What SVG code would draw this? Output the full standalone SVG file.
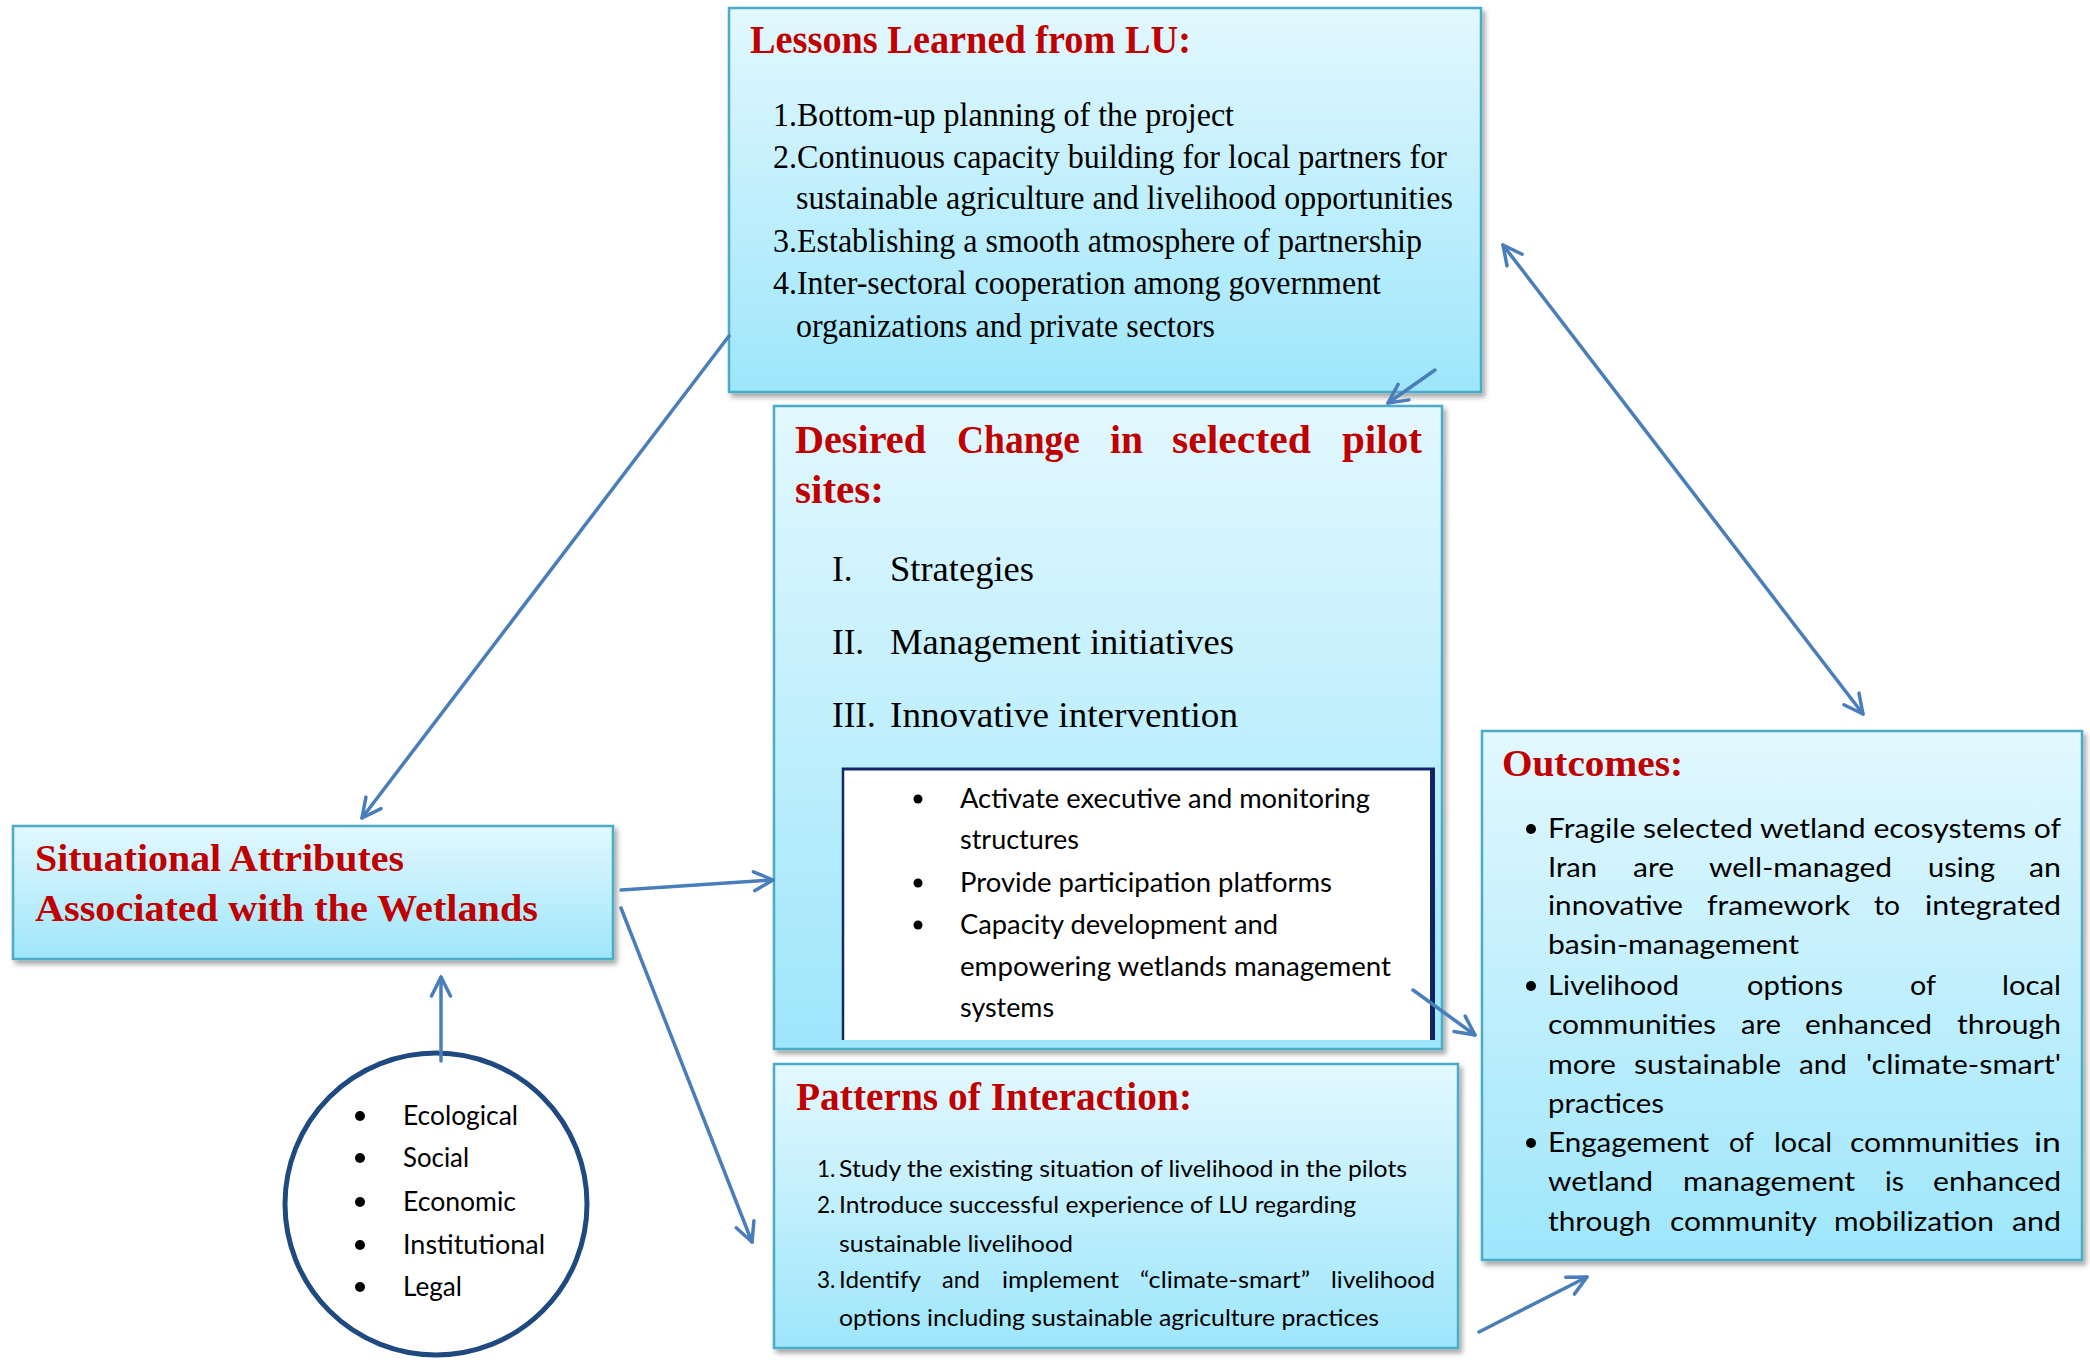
<svg xmlns="http://www.w3.org/2000/svg" width="2090" height="1360" viewBox="0 0 2090 1360">
  <defs>
    <linearGradient id="boxFill" x1="0" y1="0" x2="0" y2="1">
      <stop offset="0" stop-color="#E2F8FE"/>
      <stop offset="1" stop-color="#9EE6FB"/>
    </linearGradient>
    <filter id="shadow" x="-5%" y="-5%" width="112%" height="115%">
      <feDropShadow dx="3" dy="4" stdDeviation="2.5" flood-color="#000" flood-opacity="0.35"/>
    </filter>
    <marker id="arrow" viewBox="0 0 24 24" refX="21" refY="12" markerWidth="24" markerHeight="24" markerUnits="userSpaceOnUse" orient="auto-start-reverse">
      <path d="M2,2.5 L21,12 L2,21.5" fill="none" stroke="#4A7EBB" stroke-width="3.5" stroke-linecap="round" stroke-linejoin="round"/>
    </marker>
    <clipPath id="desiredClip">
      <rect x="774" y="406" width="668" height="634"/>
    </clipPath>
    <style>
      .box { fill: url(#boxFill); stroke: #4BACC6; stroke-width: 2.5; filter: url(#shadow); }
      .title { font-family: "Liberation Serif", serif; font-weight: bold; fill: #C00000; }
      .serif { font-family: "Liberation Serif", serif; fill: #000; }
      .sans { font-family: Lato, "Liberation Sans", sans-serif; fill: #000; }
      .dot { fill: #000; }
      .conn { fill: none; stroke: #4A7EBB; stroke-width: 3.5; stroke-linecap: round; }
    </style>
  </defs>

  <rect width="2090" height="1360" fill="#FFFFFF"/>

  <!-- Lessons learned box -->
  <g id="lessons">
    <rect class="box" x="729" y="8" width="752" height="384"/>
    <text class="title" x="750" y="53" font-size="40" textLength="441" lengthAdjust="spacingAndGlyphs">Lessons Learned from LU:</text>
    <g class="serif" font-size="33">
      <text x="773" y="126" textLength="461" lengthAdjust="spacingAndGlyphs">1.Bottom-up planning of the project</text>
      <text x="773" y="168" textLength="674" lengthAdjust="spacingAndGlyphs">2.Continuous capacity building for local partners for</text>
      <text x="796" y="209" textLength="657" lengthAdjust="spacingAndGlyphs">sustainable agriculture and livelihood opportunities</text>
      <text x="773" y="252" textLength="649" lengthAdjust="spacingAndGlyphs">3.Establishing a smooth atmosphere of partnership</text>
      <text x="773" y="294" textLength="608" lengthAdjust="spacingAndGlyphs">4.Inter-sectoral cooperation among government</text>
      <text x="796" y="337" textLength="419" lengthAdjust="spacingAndGlyphs">organizations and private sectors</text>
    </g>
  </g>

  <!-- Desired change box -->
  <g id="desired-change">
    <rect class="box" x="774" y="406" width="668" height="643"/>
    <g class="title" font-size="39">
      <text x="795" y="453" textLength="131" lengthAdjust="spacingAndGlyphs">Desired</text>
      <text x="957" y="453" textLength="123" lengthAdjust="spacingAndGlyphs">Change</text>
      <text x="1110" y="453" textLength="33" lengthAdjust="spacingAndGlyphs">in</text>
      <text x="1172" y="453" textLength="139" lengthAdjust="spacingAndGlyphs">selected</text>
      <text x="1342" y="453" textLength="80" lengthAdjust="spacingAndGlyphs">pilot</text>
      <text x="795" y="503" textLength="89" lengthAdjust="spacingAndGlyphs">sites:</text>
    </g>
    <g class="serif" font-size="35">
      <text x="832" y="581">I.</text>
      <text x="890" y="581" textLength="144" lengthAdjust="spacingAndGlyphs">Strategies</text>
      <text x="832" y="654">II.</text>
      <text x="890" y="654" textLength="344" lengthAdjust="spacingAndGlyphs">Management initiatives</text>
      <text x="832" y="727">III.</text>
      <text x="890" y="727" textLength="348" lengthAdjust="spacingAndGlyphs">Innovative intervention</text>
    </g>
    <!-- inner white panel, cut off by the bottom of the box -->
    <g clip-path="url(#desiredClip)">
      <rect x="842" y="768" width="591" height="280" fill="#FFFFFF"/>
      <line x1="843" y1="768" x2="843" y2="1048" stroke="#13286B" stroke-width="2.5"/>
      <line x1="842" y1="769" x2="1435" y2="769" stroke="#13286B" stroke-width="3"/>
      <line x1="1432.5" y1="768" x2="1432.5" y2="1048" stroke="#0F2460" stroke-width="5"/>
    </g>
    <g class="dot">
      <circle cx="918" cy="799" r="4.5"/>
      <circle cx="918" cy="883" r="4.5"/>
      <circle cx="918" cy="925" r="4.5"/>
    </g>
    <g class="sans" font-size="26">
      <text x="960" y="808" textLength="410" lengthAdjust="spacingAndGlyphs">Activate executive and monitoring</text>
      <text x="960" y="849" textLength="119" lengthAdjust="spacingAndGlyphs">structures</text>
      <text x="960" y="892" textLength="372" lengthAdjust="spacingAndGlyphs">Provide participation platforms</text>
      <text x="960" y="934" textLength="318" lengthAdjust="spacingAndGlyphs">Capacity development and</text>
      <text x="960" y="976" textLength="431" lengthAdjust="spacingAndGlyphs">empowering wetlands management</text>
      <text x="960" y="1017" textLength="94" lengthAdjust="spacingAndGlyphs">systems</text>
    </g>
  </g>

  <!-- Situational attributes box -->
  <g id="situational">
    <rect class="box" x="13" y="826" width="600" height="133"/>
    <text class="title" x="35" y="871" font-size="37" textLength="369" lengthAdjust="spacingAndGlyphs">Situational Attributes</text>
    <text class="title" x="35" y="921" font-size="37" textLength="503" lengthAdjust="spacingAndGlyphs">Associated with the Wetlands</text>
  </g>

  <!-- Attribute categories circle -->
  <g id="categories">
    <circle cx="436" cy="1204" r="151" fill="#FFFFFF" stroke="#1F4A7F" stroke-width="5"/>
    <g class="dot">
      <circle cx="360" cy="1116" r="5"/>
      <circle cx="360" cy="1158" r="5"/>
      <circle cx="360" cy="1202" r="5"/>
      <circle cx="360" cy="1245" r="5"/>
      <circle cx="360" cy="1287" r="5"/>
    </g>
    <g class="sans" font-size="26">
      <text x="403" y="1125" textLength="115" lengthAdjust="spacingAndGlyphs">Ecological</text>
      <text x="403" y="1167" textLength="66" lengthAdjust="spacingAndGlyphs">Social</text>
      <text x="403" y="1211" textLength="113" lengthAdjust="spacingAndGlyphs">Economic</text>
      <text x="403" y="1254" textLength="142" lengthAdjust="spacingAndGlyphs">Institutional</text>
      <text x="403" y="1296" textLength="59" lengthAdjust="spacingAndGlyphs">Legal</text>
    </g>
  </g>

  <!-- Patterns of interaction box -->
  <g id="patterns">
    <rect class="box" x="774" y="1064" width="684" height="284"/>
    <text class="title" x="796" y="1110" font-size="39" textLength="396" lengthAdjust="spacingAndGlyphs">Patterns of Interaction:</text>
    <g class="sans" font-size="22.5">
      <text x="817" y="1177">1.</text>
      <text x="839" y="1177" textLength="568" lengthAdjust="spacingAndGlyphs">Study the existing situation of livelihood in the pilots</text>
      <text x="817" y="1213">2.</text>
      <text x="839" y="1213" textLength="517" lengthAdjust="spacingAndGlyphs">Introduce successful experience of LU regarding</text>
      <text x="839" y="1252" textLength="234" lengthAdjust="spacingAndGlyphs">sustainable livelihood</text>
      <text x="817" y="1288">3.</text>
      <text x="839" y="1288" textLength="82" lengthAdjust="spacingAndGlyphs">Identify</text>
      <text x="942" y="1288" textLength="38" lengthAdjust="spacingAndGlyphs">and</text>
      <text x="1002" y="1288" textLength="117" lengthAdjust="spacingAndGlyphs">implement</text>
      <text x="1140" y="1288" textLength="170" lengthAdjust="spacingAndGlyphs">“climate-smart”</text>
      <text x="1331" y="1288" textLength="104" lengthAdjust="spacingAndGlyphs">livelihood</text>
      <text x="839" y="1326" textLength="540" lengthAdjust="spacingAndGlyphs">options including sustainable agriculture practices</text>
    </g>
  </g>

  <!-- Outcomes box -->
  <g id="outcomes">
    <rect class="box" x="1482" y="731" width="600" height="529"/>
    <text class="title" x="1502" y="776" font-size="38" textLength="181" lengthAdjust="spacingAndGlyphs">Outcomes:</text>
    <g class="dot">
      <circle cx="1531" cy="829" r="5"/>
      <circle cx="1531" cy="986" r="5"/>
      <circle cx="1531" cy="1143" r="5"/>
    </g>
    <g class="sans" font-size="27">
      <text x="1548" y="838" textLength="513" lengthAdjust="spacingAndGlyphs">Fragile selected wetland ecosystems of</text>

      <text x="1548" y="877" textLength="49" lengthAdjust="spacingAndGlyphs">Iran</text>
      <text x="1633" y="877" textLength="41" lengthAdjust="spacingAndGlyphs">are</text>
      <text x="1709" y="877" textLength="183" lengthAdjust="spacingAndGlyphs">well-managed</text>
      <text x="1928" y="877" textLength="67" lengthAdjust="spacingAndGlyphs">using</text>
      <text x="2029" y="877" textLength="32" lengthAdjust="spacingAndGlyphs">an</text>

      <text x="1548" y="915" textLength="135" lengthAdjust="spacingAndGlyphs">innovative</text>
      <text x="1707" y="915" textLength="143" lengthAdjust="spacingAndGlyphs">framework</text>
      <text x="1874" y="915" textLength="26" lengthAdjust="spacingAndGlyphs">to</text>
      <text x="1925" y="915" textLength="136" lengthAdjust="spacingAndGlyphs">integrated</text>

      <text x="1548" y="954" textLength="251" lengthAdjust="spacingAndGlyphs">basin-management</text>

      <text x="1548" y="995" textLength="131" lengthAdjust="spacingAndGlyphs">Livelihood</text>
      <text x="1747" y="995" textLength="96" lengthAdjust="spacingAndGlyphs">options</text>
      <text x="1910" y="995" textLength="26" lengthAdjust="spacingAndGlyphs">of</text>
      <text x="2002" y="995" textLength="59" lengthAdjust="spacingAndGlyphs">local</text>

      <text x="1548" y="1034" textLength="168" lengthAdjust="spacingAndGlyphs">communities</text>
      <text x="1741" y="1034" textLength="40" lengthAdjust="spacingAndGlyphs">are</text>
      <text x="1805" y="1034" textLength="127" lengthAdjust="spacingAndGlyphs">enhanced</text>
      <text x="1957" y="1034" textLength="104" lengthAdjust="spacingAndGlyphs">through</text>

      <text x="1548" y="1074" textLength="68" lengthAdjust="spacingAndGlyphs">more</text>
      <text x="1634" y="1074" textLength="147" lengthAdjust="spacingAndGlyphs">sustainable</text>
      <text x="1799" y="1074" textLength="48" lengthAdjust="spacingAndGlyphs">and</text>
      <text x="1866" y="1074" textLength="195" lengthAdjust="spacingAndGlyphs">'climate-smart'</text>

      <text x="1548" y="1113" textLength="116" lengthAdjust="spacingAndGlyphs">practices</text>

      <text x="1548" y="1152" textLength="161" lengthAdjust="spacingAndGlyphs">Engagement</text>
      <text x="1729" y="1152" textLength="25" lengthAdjust="spacingAndGlyphs">of</text>
      <text x="1774" y="1152" textLength="58" lengthAdjust="spacingAndGlyphs">local</text>
      <text x="1850" y="1152" textLength="169" lengthAdjust="spacingAndGlyphs">communities</text>
      <text x="2034" y="1152" textLength="27" lengthAdjust="spacingAndGlyphs">in</text>

      <text x="1548" y="1191" textLength="105" lengthAdjust="spacingAndGlyphs">wetland</text>
      <text x="1683" y="1191" textLength="172" lengthAdjust="spacingAndGlyphs">management</text>
      <text x="1885" y="1191" textLength="19" lengthAdjust="spacingAndGlyphs">is</text>
      <text x="1933" y="1191" textLength="128" lengthAdjust="spacingAndGlyphs">enhanced</text>

      <text x="1548" y="1231" textLength="103" lengthAdjust="spacingAndGlyphs">through</text>
      <text x="1670" y="1231" textLength="147" lengthAdjust="spacingAndGlyphs">community</text>
      <text x="1834" y="1231" textLength="160" lengthAdjust="spacingAndGlyphs">mobilization</text>
      <text x="2012" y="1231" textLength="49" lengthAdjust="spacingAndGlyphs">and</text>
    </g>
  </g>

  <!-- Connectors -->
  <g id="connectors" class="conn">
    <path class="conn" d="M729,336 L362,818" marker-end="url(#arrow)"/>
    <path class="conn" d="M1435,370 L1388,403" marker-end="url(#arrow)"/>
    <path class="conn" d="M1503,245 L1863,714" marker-start="url(#arrow)" marker-end="url(#arrow)"/>
    <path class="conn" d="M621,890 L773,880" marker-end="url(#arrow)"/>
    <path class="conn" d="M621,908 L752,1242" marker-end="url(#arrow)"/>
    <path class="conn" d="M1413,990 L1475,1035" marker-end="url(#arrow)"/>
    <path class="conn" d="M1479,1332 L1587,1277" marker-end="url(#arrow)"/>
    <path class="conn" d="M441,1061 L441,977" marker-end="url(#arrow)"/>
  </g>
</svg>
